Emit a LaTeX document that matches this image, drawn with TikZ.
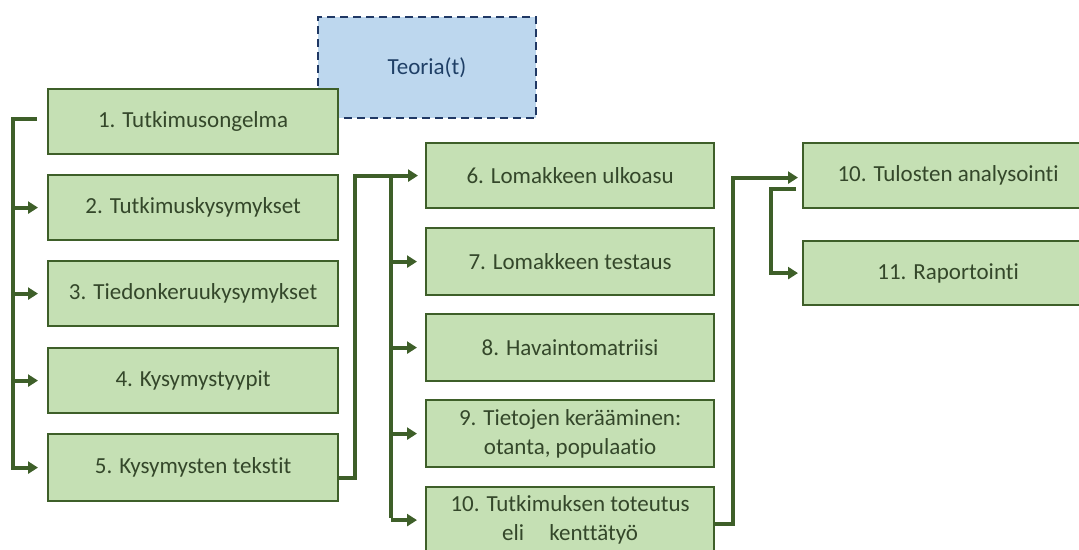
\documentclass[tikz,border=0pt]{standalone}
\usepackage{fontspec}
\setmainfont{Carlito}[Ligatures=NoCommon]
\usetikzlibrary{arrows.meta,calc}
\definecolor{boxfill}{HTML}{C5E0B4}
\definecolor{boxline}{HTML}{3E5F29}
\definecolor{boxtext}{HTML}{34472A}
\definecolor{theoryfill}{HTML}{BDD7EE}
\definecolor{theoryline}{HTML}{203864}
\definecolor{theorytext}{HTML}{1F3F66}
\tikzset{
  phase/.style={draw=boxline, line width=2.2pt, fill=boxfill, text=boxtext,
    anchor=north west, inner sep=0pt, minimum width=290pt, minimum height=65pt,
    align=center, font=\fontsize{23}{29}\selectfont},
  theory/.style={draw=theoryline, line width=2pt, fill=theoryfill, text=theorytext,
    dash pattern=on 8pt off 5pt, anchor=north west, inner sep=0pt,
    minimum width=218pt, minimum height=101pt, font=\fontsize{23}{29}\selectfont},
  link/.style={draw=boxline, line width=4pt, line join=miter,
    -{Triangle[length=10pt,width=12pt]}},
  spine/.style={draw=boxline, line width=4pt, line join=miter}
}

\begin{document}
\begin{tikzpicture}[x=1pt,y=-1pt]
    \useasboundingbox (0,0) rectangle (1079,549);
    \clip (0,0) rectangle (1079,549); % box 10 runs off the page

    \node[theory] (teoria) at (317,16) {Teoria(t)};

    % first column
    \node[phase] (kysA) at (47,88) {1. Tutkimusongelma};
    \node[phase] (kysB) at (47,174) {2. Tutkimuskysymykset};
    \node[phase] (kysC) at (47,260) {3. Tiedonkeruukysymykset};
    \node[phase] (kysD) at (47,347) {4. Kysymystyypit};
    \node[phase, minimum height=67pt] (kysE) at (47,433) {5. Kysymysten tekstit};

    % second column
    \node[phase, minimum width=288pt] (lomA) at (425,142) {6. Lomakkeen ulkoasu};
    \node[phase, minimum width=288pt, minimum height=67pt] (lomB) at (425,227) {7. Lomakkeen testaus};
    \node[phase, minimum width=288pt, minimum height=67pt] (lomC) at (425,313) {8. Havaintomatriisi};
    \node[phase, minimum width=288pt, minimum height=67pt] (lomD) at (425,399) {9. Tietojen kerääminen:\\otanta, populaatio};
    \node[phase, minimum width=288pt, minimum height=66pt] (lomE) at (425,486) {10. Tutkimuksen toteutus\\eli\hspace{1.1em}kenttätyö};

    % third column
    \node[phase] (tulA) at (802,142) {10. Tulosten analysointi};
    \node[phase, minimum height=64pt] (tulB) at (802,240) {11. Raportointi};

    \draw[link] ([shift={(-10pt,3pt)}]kysA.west) -| ([xshift=-34pt]kysE.west) -- ([xshift=-9pt]kysE.west);
    \foreach \n in {kysB,kysC,kysD}
      \draw[link] ([xshift=-34pt]\n.west) -- ([xshift=-9pt]\n.west);

    \draw[link] ([yshift=-10pt]kysE.east) -| ([xshift=-70pt]lomA.west) -- ([xshift=-7pt]lomA.west);
    \draw[spine] ([xshift=-34pt]lomA.west) -- ([xshift=-34pt,yshift=2pt]lomE.west);
    \foreach \n in {lomB,lomC,lomD,lomE}
      \draw[link] ([xshift=-34pt]\n.west) -- ([xshift=-8pt]\n.west);

    \draw[link] ([yshift=-4pt]lomE.east) -| ([shift={(-69pt,-2pt)}]tulA.west) -- ([shift={(-4pt,-2pt)}]tulA.west);
    \draw[link] ([shift={(-6pt,-13pt)}]tulA.west) -| ([xshift=-31pt]tulB.west) -- ([xshift=-4pt]tulB.west);
  \end{tikzpicture}
\end{document}
